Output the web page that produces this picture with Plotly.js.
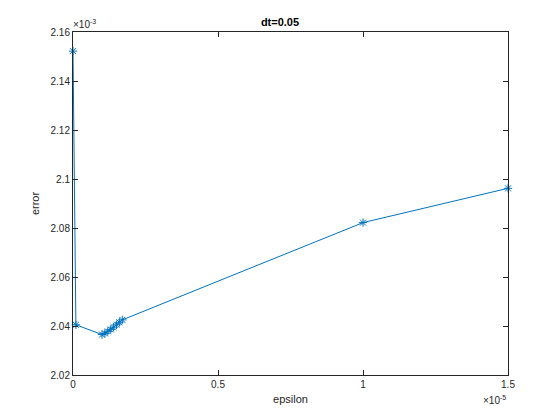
<!DOCTYPE html>
<html><head><meta charset="utf-8">
<script src="https://cdn.plot.ly/plotly-3.0.1.min.js"></script>
<style>html,body{margin:0;padding:0;background:#fff}</style>
</head><body>
<div id="chart" style="width:560px;height:420px"></div>
<script>
var epsilon = [0, 1e-7, 1.0e-6, 1.1e-6, 1.2e-6, 1.3e-6, 1.4e-6, 1.5e-6, 1.6e-6, 1.7e-6, 1.0e-5, 1.5e-5];
var errorVals = [2.1522e-3, 2.0405e-3, 2.0365e-3, 2.0370e-3, 2.0378e-3, 2.0386e-3, 2.0395e-3, 2.0405e-3, 2.0415e-3, 2.0425e-3, 2.0822e-3, 2.0962e-3];
var xTickVals = [0, 0.5e-5, 1e-5, 1.5e-5];
var xTickText = ["0", "0.5", "1", "1.5"];
var yTickVals = [2.02e-3, 2.04e-3, 2.06e-3, 2.08e-3, 2.10e-3, 2.12e-3, 2.14e-3, 2.16e-3];
var yTickText = ["2.02", "2.04", "2.06", "2.08", "2.1", "2.12", "2.14", "2.16"];

var trace = {
  x: epsilon, y: errorVals, type: 'scatter', mode: 'lines+markers',
  line: {color: '#0072BD', width: 1},
  marker: {symbol: 'asterisk-open', size: 7, color: '#0072BD', line: {color: '#0072BD', width: 1}},
  cliponaxis: false
};
var axisCommon = {
  showgrid: false, zeroline: false, showline: true, linecolor: '#262626', linewidth: 1,
  mirror: 'ticks', ticks: 'inside', ticklen: 5, tickcolor: '#262626',
  tickfont: {family: 'Liberation Sans, Arial, sans-serif', size: 10, color: '#262626'}
};
var layout = {
  width: 560, height: 420,
  margin: {l: 73, r: 52, t: 32, b: 45},
  paper_bgcolor: '#fff', plot_bgcolor: '#fff',
  showlegend: false,
  title: {text: '<b>dt=0.05</b>', x: 0.5, xanchor: 'center', y: 1 - 22/420, yanchor: 'middle',
          font: {family: 'Liberation Sans, Arial, sans-serif', size: 11, color: '#000'}},
  xaxis: Object.assign({}, axisCommon, {
    range: [0, 1.5e-5], tickvals: xTickVals, ticktext: xTickText,
    title: {text: 'epsilon', standoff: 6, font: {family: 'Liberation Sans, Arial, sans-serif', size: 11, color: '#262626'}}
  }),
  yaxis: Object.assign({}, axisCommon, {
    range: [2.02e-3, 2.16e-3], tickvals: yTickVals, ticktext: yTickText,
    title: {text: 'error', standoff: 8, font: {family: 'Liberation Sans, Arial, sans-serif', size: 11, color: '#262626'}}
  }),
  annotations: [
    {xref: 'paper', yref: 'paper', x: 0, y: 1, xanchor: 'left', yanchor: 'bottom', yshift: 0, xshift: -2,
     text: '×10<sup>-3</sup>', showarrow: false,
     font: {family: 'Liberation Sans, Arial, sans-serif', size: 10, color: '#262626'}},
    {xref: 'paper', yref: 'paper', x: 1, y: 0, xanchor: 'right', yanchor: 'top', yshift: -17, xshift: 0,
     text: '×10<sup>-5</sup>', showarrow: false,
     font: {family: 'Liberation Sans, Arial, sans-serif', size: 10, color: '#262626'}}
  ]
};
Plotly.newPlot('chart', [trace], layout, {displayModeBar: false, staticPlot: true});
</script>
</body></html>
